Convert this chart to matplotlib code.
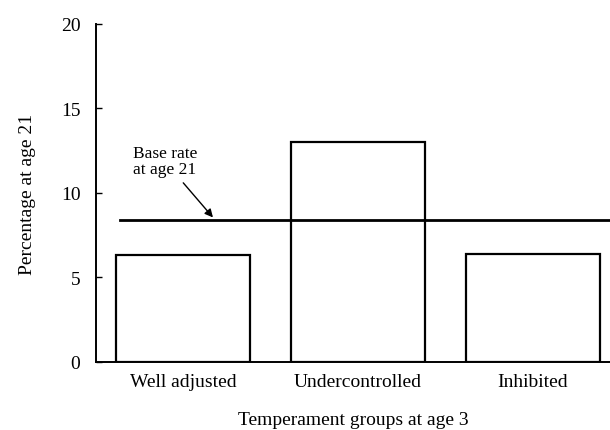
import matplotlib
matplotlib.use("Agg")
import matplotlib.pyplot as plt

categories = ["Well adjusted", "Undercontrolled", "Inhibited"]
percentages = [6.3, 13.0, 6.4]
base_rate = 8.4
y_ticks = [0, 5, 10, 15, 20]

plt.rcParams['font.family'] = ['Liberation Serif', 'DejaVu Serif']

fig = plt.figure(figsize=(6.10, 4.31), dpi=100)
ax = fig.add_axes([0.157, 0.158, 0.843, 0.784])

x = list(range(len(categories)))
ax.bar(x, percentages, width=0.765, facecolor='white', edgecolor='black', linewidth=1.6, zorder=2)
ax.plot([-0.36, 2.44], [base_rate, base_rate], color='black', linewidth=2.0, zorder=3)

ax.set_xlim(-0.5, 2.44)
ax.set_ylim(0, 20)
ax.set_yticks(y_ticks)
ax.set_xticks(x)
ax.set_xticklabels(categories, fontsize=14)
ax.tick_params(axis='y', direction='in', length=4, width=1, labelsize=14, pad=11)
ax.tick_params(axis='x', length=0, pad=8)

for s in ['top', 'right']:
    ax.spines[s].set_visible(False)
for s in ['left', 'bottom']:
    ax.spines[s].set_linewidth(1.4)

ax.set_ylabel("Percentage at age 21", fontsize=14, labelpad=18)
ax.set_xlabel("Temperament groups at age 3", fontsize=14, labelpad=15)

ax.annotate("Base rate\nat age 21", xy=(0.17, base_rate + 0.15), xytext=(-0.29, 10.95),
            fontsize=12.5, ha='left', va='bottom', linespacing=0.95,
            arrowprops=dict(arrowstyle='-|>', color='black', lw=1.0, mutation_scale=12,
                            shrinkA=3, shrinkB=0))

fig.savefig("out.png", dpi=100)
